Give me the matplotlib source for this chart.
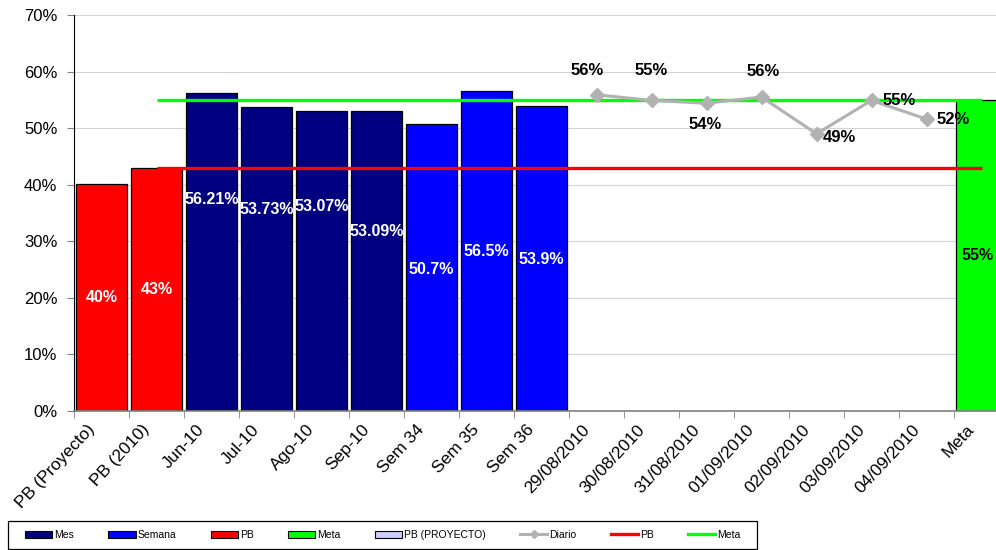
import numpy as np
import matplotlib
matplotlib.use("Agg")
import matplotlib.pyplot as plt
from matplotlib.patches import Patch, Rectangle
from matplotlib.lines import Line2D
from matplotlib.ticker import FuncFormatter, MultipleLocator
import matplotlib.transforms as mtransforms

plt.rcParams['font.family'] = ['Liberation Sans', 'DejaVu Sans']

# ---- data -------------------------------------------------------------
categories = ["PB (Proyecto)", "PB (2010)", "Jun-10", "Jul-10", "Ago-10", "Sep-10",
              "Sem 34", "Sem 35", "Sem 36",
              "29/08/2010", "30/08/2010", "31/08/2010", "01/09/2010",
              "02/09/2010", "03/09/2010", "04/09/2010", "Meta"]

pb_cats = ["PB (Proyecto)", "PB (2010)"]
pb_values = [40.2, 43.0]

mes_cats = ["Jun-10", "Jul-10", "Ago-10", "Sep-10"]
mes_values = [56.21, 53.73, 53.07, 53.09]

semana_cats = ["Sem 34", "Sem 35", "Sem 36"]
semana_values = [50.7, 56.5, 53.9]

meta_cats = ["Meta"]
meta_values = [55.0]

diario_cats = ["29/08/2010", "30/08/2010", "31/08/2010", "01/09/2010",
               "02/09/2010", "03/09/2010", "04/09/2010"]
diario_values = [55.9, 54.9, 54.4, 55.5, 49.0, 54.9, 51.6]

pb_target = 43.0
meta_target = 55.0
target_cats = categories[1:]

# label heights inside the monthly / weekly bars
mes_label_y = [37.3, 35.7, 36.2, 31.8]
semana_label_y = [25.1, 28.2, 26.7]
# label offsets (pixels) for the daily points
diario_label_off = [(-9, 24), (0, 30), (-1, -21), (2, 26), (23, -4), (28, 0), (27, 0)]

# ---- colours ----------------------------------------------------------
C_MES = "#000080"
C_SEM = "#0000ff"
C_PB = "#ff0000"
C_META = "#00ff00"
C_PROY = "#ccccff"
C_DIA = "#b2b2b2"

pos = {c: i for i, c in enumerate(categories)}
def xs(cats):
    return [pos[c] for c in cats]

fig = plt.figure(figsize=(9.96, 5.50), dpi=100)
ax = fig.add_axes([74 / 996, 139 / 550, 935 / 996, 396 / 550])

bar_kw = dict(width=0.92, edgecolor="black", linewidth=0.9, zorder=2)
ax.bar(xs(pb_cats), pb_values, color=C_PB, **bar_kw)
ax.bar(xs(mes_cats), mes_values, color=C_MES, **bar_kw)
ax.bar(xs(semana_cats), semana_values, color=C_SEM, **bar_kw)
ax.bar(xs(meta_cats), meta_values, color=C_META, **bar_kw)

ax.plot(xs(target_cats), [pb_target] * len(target_cats), color=C_PB, lw=2.4,
        solid_capstyle="butt", zorder=3)
ax.plot(xs(target_cats), [meta_target] * len(target_cats), color=C_META, lw=2.4,
        solid_capstyle="butt", zorder=3)
ax.plot(xs(diario_cats), diario_values, color=C_DIA, lw=2.2, marker="D",
        markersize=7.5, markeredgecolor=C_DIA, zorder=4)

lbl = dict(fontsize=11.5, fontweight="bold", ha="center", va="center", zorder=5)
for x, v in zip(xs(pb_cats), pb_values):
    ax.text(x, v / 2, f"{v:.0f}%", color="white", **lbl)
for x, v, ly in zip(xs(mes_cats), mes_values, mes_label_y):
    ax.text(x, ly, f"{v:.2f}%", color="white", **lbl)
for x, v, ly in zip(xs(semana_cats), semana_values, semana_label_y):
    ax.text(x, ly, f"{v:.1f}%", color="white", **lbl)
for x, v in zip(xs(meta_cats), meta_values):
    ax.text(x - 0.08, v / 2, f"{v:.0f}%", color="black", **lbl)
for x, v, off in zip(xs(diario_cats), diario_values, diario_label_off):
    ax.annotate(f"{v:.0f}%", (x, v), xytext=off, textcoords="offset pixels",
                color="black", **{**lbl, "fontsize": 12})

# ---- axes -------------------------------------------------------------
ax.set_xlim(-0.5, len(categories) - 0.5)
ax.set_ylim(0, 70)
ax.yaxis.set_major_locator(MultipleLocator(10))
ax.yaxis.set_major_formatter(FuncFormatter(lambda v, p: f"{v:.0f}%"))
ax.grid(axis="y", color="#d4d4d4", lw=0.8, zorder=0)
ax.set_axisbelow(True)

for s in ("top", "right"):
    ax.spines[s].set_visible(False)
ax.spines["left"].set_color("black")
ax.spines["bottom"].set_color("#808080")
ax.spines["bottom"].set_linewidth(1.2)

ax.tick_params(axis="y", direction="out", length=5, color="#808080", pad=7,
               labelsize=12)
ax.set_xticks(range(len(categories)))
ax.set_xticklabels(categories, rotation=47, ha="right", va="top",
                   rotation_mode="anchor", fontsize=12.5)
ax.set_xticks(np.arange(-0.5, len(categories), 1), minor=True)
ax.tick_params(axis="x", which="major", length=0, pad=8)
ax.tick_params(axis="x", which="minor", length=5, color="#808080", direction="out")
shift = mtransforms.ScaledTranslation(-15 / 100, 0, fig.dpi_scale_trans)
for t in ax.get_xticklabels():
    t.set_transform(t.get_transform() + shift)

# ---- legend -----------------------------------------------------------
handles = [
    Patch(facecolor=C_MES, edgecolor="black", lw=0.8, label="Mes"),
    Patch(facecolor=C_SEM, edgecolor="black", lw=0.8, label="Semana"),
    Patch(facecolor=C_PB, edgecolor="black", lw=0.8, label="PB"),
    Patch(facecolor=C_META, edgecolor="black", lw=0.8, label="Meta"),
    Patch(facecolor=C_PROY, edgecolor="black", lw=0.8, label="PB (PROYECTO)"),
    Line2D([], [], color=C_DIA, lw=2.2, marker="D", markersize=4, label="Diario"),
    Line2D([], [], color=C_PB, lw=2.4, label="PB"),
    Line2D([], [], color=C_META, lw=2.4, label="Meta"),
]
fig.patches.append(Rectangle((8 / 996, 1 / 550), 749 / 996, 28 / 550,
                             transform=fig.transFigure, facecolor="white",
                             edgecolor="black", lw=0.9, zorder=1))
leg = fig.legend(handles=handles, loc="center left", ncol=8,
                 bbox_to_anchor=(25 / 996, 15 / 550),
                 fontsize=7.5, frameon=False, handlelength=2.6,
                 handletextpad=0.2, columnspacing=3.3,
                 borderpad=0, borderaxespad=0)
leg.set_zorder(2)

fig.savefig("out.png", dpi=100)
